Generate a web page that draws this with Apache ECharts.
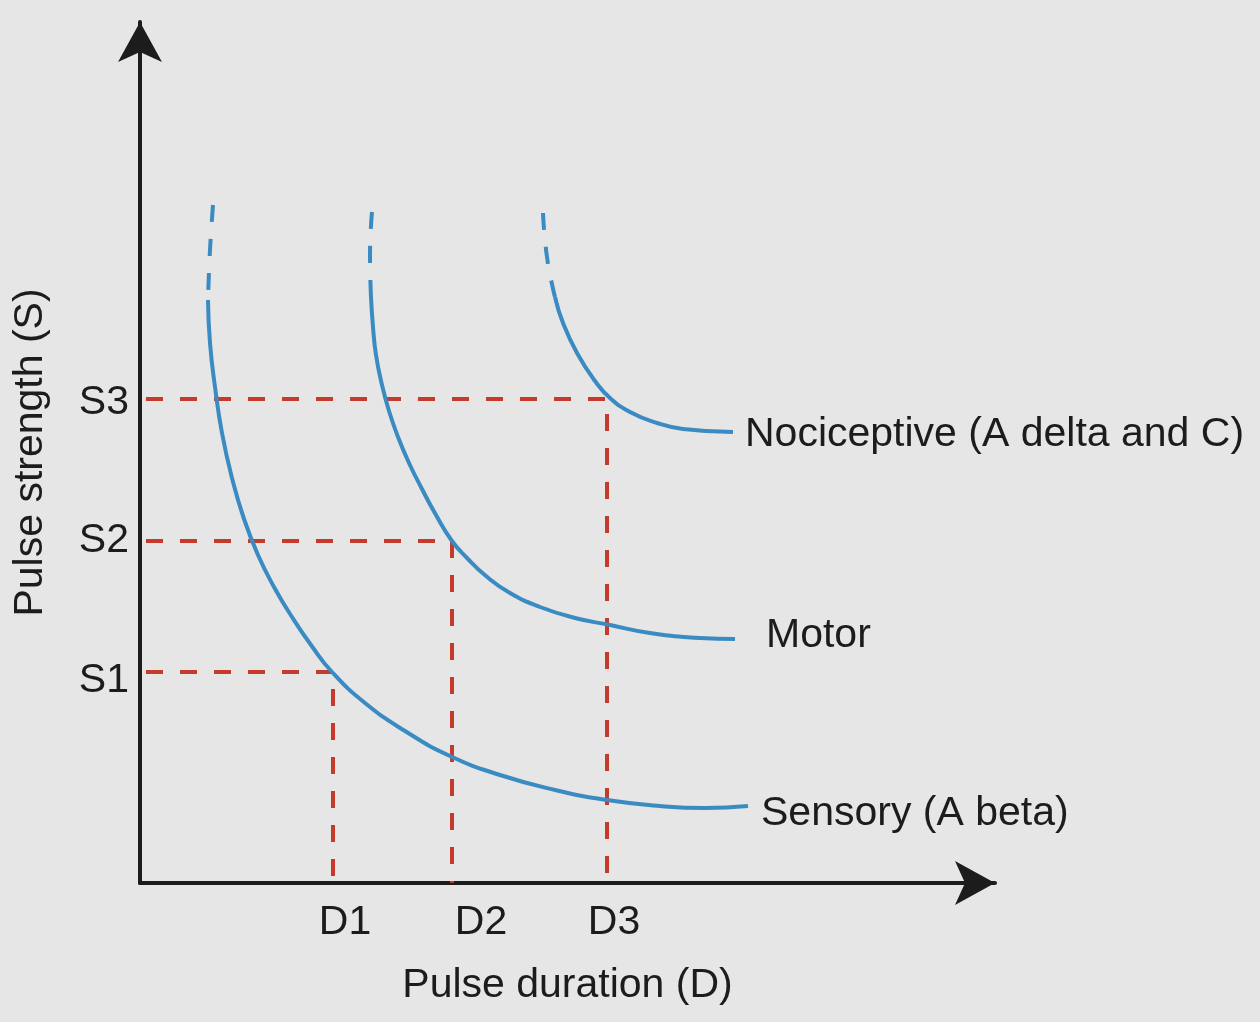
<!DOCTYPE html>
<html>
<head>
<meta charset="utf-8">
<script src="https://cdn.jsdelivr.net/npm/echarts@6/dist/echarts.min.js"></script>
<style>
  html, body { margin: 0; background: #e6e6e6; }
  #chart { width: 1260px; height: 1022px; }
</style>
</head>
<body>
<div id="chart"></div>
<script>
// strength-duration curves, arbitrary units (x = duration, y = strength)
const sensoryTop = [[73, 678], [70, 633], [68, 583]];
const sensory = [[68, 583], [70, 540], [75, 496], [82, 450], [92, 405], [104, 364], [118, 328], [134, 296], [152, 266], [171, 238], [192, 211], [225, 180], [265, 152], [310, 127], [360, 108], [415, 93], [467, 83], [520, 77], [565, 75], [608, 77]];
const motorTop = [[232, 671], [230, 628], [231, 586]];
const motor = [[231, 586], [233, 556], [236, 528], [242, 498], [249, 472], [258, 446], [269, 420], [282, 394], [296, 368], [312, 342], [327, 325], [346, 307], [370, 290], [400, 276], [435, 265], [470, 258], [510, 250], [560, 245], [595, 244]];
const nociTop = [[403, 670], [407, 626], [415, 586]];
const noci = [[415, 586], [423, 560], [437, 530], [455, 502], [470, 485], [490, 471], [517, 460], [543, 454], [593, 451]];

const durationValues = [193, 312, 467];
const strengthValues = [211, 342, 484];
const durationLabels = ["D1", "D2", "D3"];
const strengthLabels = ["S1", "S2", "S3"];
const durationLabelPos = [205, 341, 474];
const strengthLabelPos = [202, 342, 480];

const BLUE = "#3a8bc2";
const RED = "#c53a2a";
const INK = "#1c1c1c";
const FONT = "'Liberation Sans', Arial, Helvetica, sans-serif";

const thresholds = durationValues.map((d, i) => ({
  type: "line",
  data: [[0, strengthValues[i]], [d, strengthValues[i]], [d, 0]],
  symbol: "none",
  silent: true,
  lineStyle: { color: RED, width: 4, type: [17, 17], dashOffset: 28 }
}));

const curve = (data, dashed, label, offset) => ({
  type: "line",
  data,
  symbol: "none",
  smooth: 0.5,
  silent: true,
  lineStyle: { color: BLUE, width: 4, type: dashed ? [17, 17] : "solid" },
  endLabel: label
    ? { show: true, formatter: label, offset, color: INK, fontSize: 41, fontFamily: FONT }
    : { show: false }
});

const chart = echarts.init(document.getElementById("chart"));
chart.setOption({
  backgroundColor: "#e6e6e6",
  animation: false,
  grid: { left: 140, right: 265, top: 22, bottom: 139, outerBoundsMode: "none" },
  xAxis: {
    type: "value",
    min: 0,
    max: 855,
    name: "Pulse duration (D)",
    nameLocation: "middle",
    nameGap: 82,
    nameTextStyle: { color: INK, fontSize: 41, fontFamily: FONT },
    axisLine: { lineStyle: { color: INK, width: 4 }, symbol: ["none", "arrow"], symbolSize: [33, 40] },
    axisTick: { show: false },
    splitLine: { show: false },
    axisLabel: {
      customValues: durationLabelPos,
      formatter: (v) => durationLabels[durationLabelPos.indexOf(v)],
      margin: 19,
      color: INK,
      fontSize: 41,
      fontFamily: FONT
    }
  },
  yAxis: {
    type: "value",
    min: 0,
    max: 861,
    name: "Pulse strength (S)",
    nameLocation: "middle",
    nameGap: 89,
    nameTextStyle: { color: INK, fontSize: 41, fontFamily: FONT },
    axisLine: { lineStyle: { color: INK, width: 4 }, symbol: ["none", "arrow"], symbolSize: [33, 40] },
    axisTick: { show: false },
    splitLine: { show: false },
    axisLabel: {
      customValues: strengthLabelPos,
      formatter: (v) => strengthLabels[strengthLabelPos.indexOf(v)],
      margin: 11,
      color: INK,
      fontSize: 41,
      fontFamily: FONT
    }
  },
  series: [
    ...thresholds,
    curve(sensoryTop, true),
    curve(sensory, false, "Sensory (A beta)", [5, 8]),
    curve(motorTop, true),
    curve(motor, false, "Motor", [23, -3]),
    curve(nociTop, true),
    curve(noci, false, "Nociceptive (A delta and C)", [4, 3])
  ]
});
</script>
</body>
</html>
